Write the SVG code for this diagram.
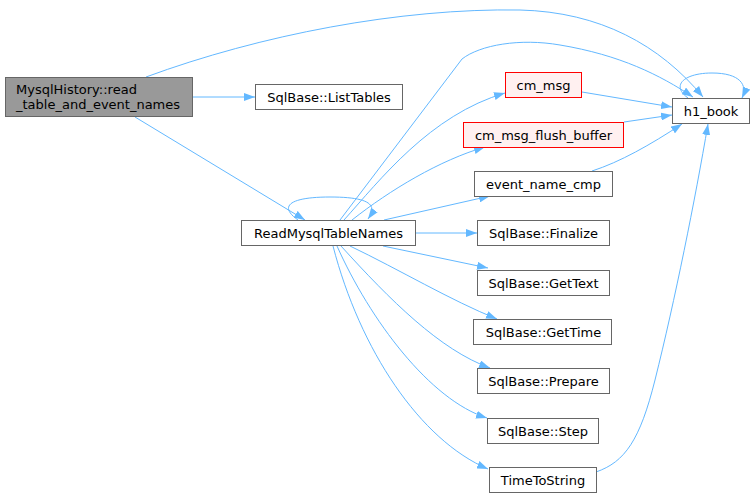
<svg xmlns="http://www.w3.org/2000/svg" width="755" height="498" viewBox="0 0 755 498">
<style>
.n rect{fill:#fff;stroke:#666;stroke-width:1}
.n.g rect{fill:#999;stroke:#666}
.n.r rect{fill:#fff0f0;stroke:#f00}
text{font-family:"DejaVu Sans","Liberation Sans",sans-serif;font-size:13px;fill:#000;text-anchor:middle}
.e path{fill:none;stroke:#63b8ff;stroke-width:1;marker-end:url(#a)}
</style>
<defs>
<marker id="a" viewBox="0 0 11 8" refX="11" refY="4" markerWidth="11" markerHeight="8" markerUnits="userSpaceOnUse" orient="auto">
<polygon points="0,0 11,4 0,8" fill="#63b8ff"/>
</marker>
</defs>
<rect width="755" height="498" fill="#fff"/>
<g id="edges" class="e">
<path d="M146,77 C260,35 400,8 520,10 C600,12 660,45 703,97"/>
<path d="M193,97 L255,97"/>
<path d="M135,117 L305,220"/>
<path d="M298,220 C278,206 290,197 330,197 C370,197 378,205 368,219"/>
<path d="M340,220 L462,59 C480,45 520,38 560,45 C620,55 660,75 693,97"/>
<path d="M344,220 C380,180 430,115 505,93"/>
<path d="M352,220 C390,190 440,160 485,147"/>
<path d="M384,220 L490,196"/>
<path d="M416,233 L477,233"/>
<path d="M383,246 L488,268"/>
<path d="M350,246 C400,270 450,300 497,319"/>
<path d="M341,246 C390,300 440,350 490,368"/>
<path d="M337,246 C370,320 430,400 487,418"/>
<path d="M333,246 C360,350 420,440 488,469"/>
<path d="M582,92 L672,107"/>
<path d="M624,122 L672,115"/>
<path d="M592,171 C620,162 650,145 682,124"/>
<path d="M596,472 C625,462 640,440 655,380 C675,300 695,200 708,124"/>
<path d="M688,98 C670,85 685,73 712,73 C740,73 748,85 742,98"/>
</g>
<g id="n_mysqlhistory" class="n g"><rect x="5.5" y="77.5" width="187" height="39"/><text x="16" y="94" style="text-anchor:start">MysqlHistory::read</text><text x="16" y="109" style="text-anchor:start">_table_and_event_names</text></g>
<g id="n_listtables" class="n"><rect x="255.5" y="84.5" width="147" height="25"/><text x="329" y="101.5">SqlBase::ListTables</text></g>
<g id="n_readmysql" class="n"><rect x="241.5" y="220.5" width="174" height="25"/><text x="328.5" y="237.5">ReadMysqlTableNames</text></g>
<g id="n_cmmsg" class="n r"><rect x="505.5" y="72.5" width="76" height="25"/><text x="543.5" y="89.5">cm_msg</text></g>
<g id="n_cmflush" class="n r"><rect x="463.5" y="122.5" width="160" height="25"/><text x="543.5" y="139.5">cm_msg_flush_buffer</text></g>
<g id="n_evcmp" class="n"><rect x="474.5" y="171.5" width="138" height="25"/><text x="543.5" y="188.5">event_name_cmp</text></g>
<g id="n_finalize" class="n"><rect x="477.5" y="220.5" width="132" height="25"/><text x="543.5" y="237.5">SqlBase::Finalize</text></g>
<g id="n_gettext" class="n"><rect x="477.5" y="270.5" width="132" height="25"/><text x="543.5" y="287.5">SqlBase::GetText</text></g>
<g id="n_gettime" class="n"><rect x="473.5" y="319.5" width="138" height="25"/><text x="543.5" y="336.5">SqlBase::GetTime</text></g>
<g id="n_prepare" class="n"><rect x="477.5" y="368.5" width="132" height="25"/><text x="543.5" y="385.5">SqlBase::Prepare</text></g>
<g id="n_step" class="n"><rect x="487.5" y="418.5" width="111" height="25"/><text x="543" y="435.5">SqlBase::Step</text></g>
<g id="n_timetostring" class="n"><rect x="489.5" y="467.5" width="107" height="25"/><text x="543" y="484.5">TimeToString</text></g>
<g id="n_h1book" class="n"><rect x="672.5" y="98.5" width="77" height="25"/><text x="711" y="115.5">h1_book</text></g>
</svg>
